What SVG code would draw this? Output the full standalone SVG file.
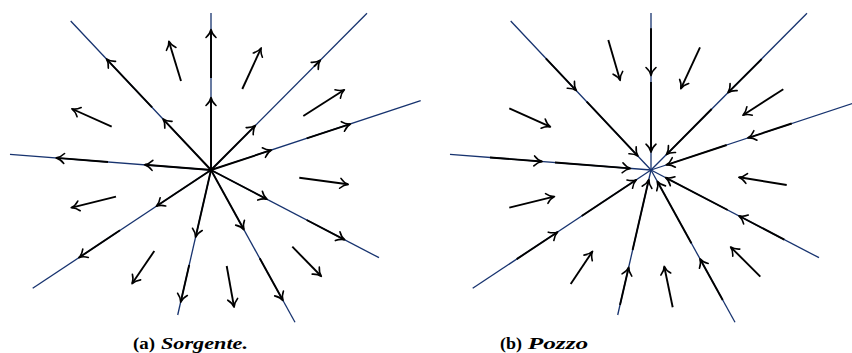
<svg xmlns="http://www.w3.org/2000/svg" width="852" height="353" viewBox="0 0 852 353">
<style>
.ray{stroke:#17336f;stroke-width:1.3;fill:none}
.arr{stroke:#000;stroke-width:1.9;fill:none;marker-end:url(#ah)}
.cap{font-family:"Liberation Serif","Times New Roman",serif;font-weight:bold;font-size:17px;fill:#000}
.it{font-style:italic}
</style>
<defs>
<marker id="ah" markerUnits="userSpaceOnUse" markerWidth="14" markerHeight="14" viewBox="-10 -7 12 14" refX="0" refY="0" orient="auto" overflow="visible">
<path d="M-7.5,-5 C-5,-2.2 -2,-0.5 0.5,0 C-2,0.5 -5,2.2 -7.5,5" stroke="#000" stroke-width="1.6" fill="none" stroke-linecap="round" stroke-linejoin="round"/>
</marker>
</defs>
<g id="panel-a">
<g id="rays-a">
<line class="ray" x1="211" y1="170" x2="211" y2="13"/>
<line class="ray" x1="211" y1="170" x2="70.7" y2="21"/>
<line class="ray" x1="211" y1="170" x2="367" y2="13.3"/>
<line class="ray" x1="211" y1="170" x2="420.7" y2="100.7"/>
<line class="ray" x1="211" y1="170" x2="10" y2="154.3"/>
<line class="ray" x1="211" y1="170" x2="32.7" y2="288.3"/>
<line class="ray" x1="211" y1="170" x2="177.7" y2="315"/>
<line class="ray" x1="211" y1="170" x2="295" y2="322.3"/>
<line class="ray" x1="211" y1="170" x2="379" y2="257.7"/>
</g>
<g id="arrows-a">
<line class="arr" x1="211" y1="170" x2="211" y2="98"/>
<line class="arr" x1="211" y1="78" x2="211" y2="30"/>
<line class="arr" x1="211" y1="170" x2="163.3" y2="119.3"/>
<line class="arr" x1="152.1" y1="107.4" x2="106.8" y2="59.3"/>
<line class="arr" x1="211" y1="170" x2="145" y2="164.8"/>
<line class="arr" x1="108" y1="162" x2="56.7" y2="157.9"/>
<line class="arr" x1="211" y1="170" x2="255" y2="125.8"/>
<line class="arr" x1="314" y1="66.6" x2="320" y2="60.5"/>
<line class="arr" x1="211" y1="170" x2="271" y2="150.2"/>
<line class="arr" x1="306.7" y1="138.4" x2="350" y2="124.1"/>
<line class="arr" x1="211" y1="170" x2="156.7" y2="206"/>
<line class="arr" x1="120" y1="230.3" x2="79.3" y2="257.4"/>
<line class="arr" x1="211" y1="170" x2="195.7" y2="236.7"/>
<line class="arr" x1="189.2" y1="265" x2="180.8" y2="301.7"/>
<line class="arr" x1="211" y1="170" x2="243.7" y2="229.3"/>
<line class="arr" x1="259.7" y1="258.3" x2="282.7" y2="300"/>
<line class="arr" x1="211" y1="170" x2="266.7" y2="199.1"/>
<line class="arr" x1="306.7" y1="220" x2="344.3" y2="239.6"/>
<line class="arr" x1="181" y1="81" x2="169" y2="41.7"/>
<line class="arr" x1="111.7" y1="126.7" x2="72.3" y2="109"/>
<line class="arr" x1="242.3" y1="89" x2="261" y2="48.3"/>
<line class="arr" x1="303.3" y1="116" x2="344" y2="90"/>
<line class="arr" x1="116" y1="196.7" x2="71.7" y2="207.7"/>
<line class="arr" x1="154.3" y1="251" x2="132.3" y2="283.3"/>
<line class="arr" x1="299.3" y1="177.7" x2="347.7" y2="184.3"/>
<line class="arr" x1="292.3" y1="246.7" x2="321" y2="276"/>
<line class="arr" x1="226.7" y1="266" x2="234" y2="306.7"/>
</g>
<g id="caption-a">
<text class="cap" x="133" y="349" textLength="22" lengthAdjust="spacingAndGlyphs">(a)</text>
<text class="cap it" x="161" y="349" textLength="87" lengthAdjust="spacingAndGlyphs">Sorgente.</text>
</g>
</g>
<g id="panel-b">
<g id="rays-b">
<line class="ray" x1="651" y1="170" x2="651" y2="13"/>
<line class="ray" x1="651" y1="170" x2="510.7" y2="21"/>
<line class="ray" x1="651" y1="170" x2="807" y2="13.3"/>
<line class="ray" x1="651" y1="170" x2="860.7" y2="100.7"/>
<line class="ray" x1="651" y1="170" x2="450" y2="154.3"/>
<line class="ray" x1="651" y1="170" x2="472.7" y2="288.3"/>
<line class="ray" x1="651" y1="170" x2="617.7" y2="315"/>
<line class="ray" x1="651" y1="170" x2="735" y2="322.3"/>
<line class="ray" x1="651" y1="170" x2="819" y2="257.7"/>
</g>
<g id="arrows-b">
<line class="arr" x1="651" y1="28.3" x2="651" y2="75"/>
<line class="arr" x1="651" y1="82" x2="651" y2="151.7"/>
<line class="arr" x1="545.8" y1="58.3" x2="576" y2="90.3"/>
<line class="arr" x1="586.7" y1="101.7" x2="637.7" y2="155.8"/>
<line class="arr" x1="490" y1="157.5" x2="541.7" y2="161.5"/>
<line class="arr" x1="555" y1="162.5" x2="630" y2="168.4"/>
<line class="arr" x1="761.7" y1="59.1" x2="728.3" y2="92.4"/>
<line class="arr" x1="711.7" y1="109" x2="666.7" y2="154.3"/>
<line class="arr" x1="791.7" y1="123.5" x2="748.3" y2="137.8"/>
<line class="arr" x1="726.7" y1="145" x2="666.7" y2="164.8"/>
<line class="arr" x1="516.7" y1="259.1" x2="557.3" y2="232.2"/>
<line class="arr" x1="581.7" y1="216" x2="636" y2="180"/>
<line class="arr" x1="620" y1="305" x2="628.6" y2="267.7"/>
<line class="arr" x1="632.6" y1="250" x2="648.7" y2="180"/>
<line class="arr" x1="784.3" y1="239.6" x2="739.3" y2="216"/>
<line class="arr" x1="727.7" y1="210" x2="666" y2="177.8"/>
<line class="arr" x1="722.7" y1="300" x2="700.2" y2="259.3"/>
<line class="arr" x1="691.4" y1="243.3" x2="657.5" y2="181.7"/>
<line class="arr" x1="608.3" y1="40" x2="620" y2="80"/>
<line class="arr" x1="509.3" y1="108.3" x2="550" y2="126.7"/>
<line class="arr" x1="700" y1="47.3" x2="681" y2="88.3"/>
<line class="arr" x1="783.3" y1="89.3" x2="743.3" y2="115"/>
<line class="arr" x1="509.3" y1="207.7" x2="554" y2="196.7"/>
<line class="arr" x1="570.7" y1="284" x2="592.3" y2="251.7"/>
<line class="arr" x1="786.7" y1="185" x2="739.3" y2="177.3"/>
<line class="arr" x1="760.3" y1="276.7" x2="731" y2="247.3"/>
<line class="arr" x1="672.7" y1="307.3" x2="664.3" y2="266.7"/>
</g>
<g id="caption-b">
<text class="cap" x="500" y="349" textLength="22" lengthAdjust="spacingAndGlyphs">(b)</text>
<text class="cap it" x="527.7" y="349" textLength="60.5" lengthAdjust="spacingAndGlyphs">Pozzo</text>
</g>
</g>
</svg>
